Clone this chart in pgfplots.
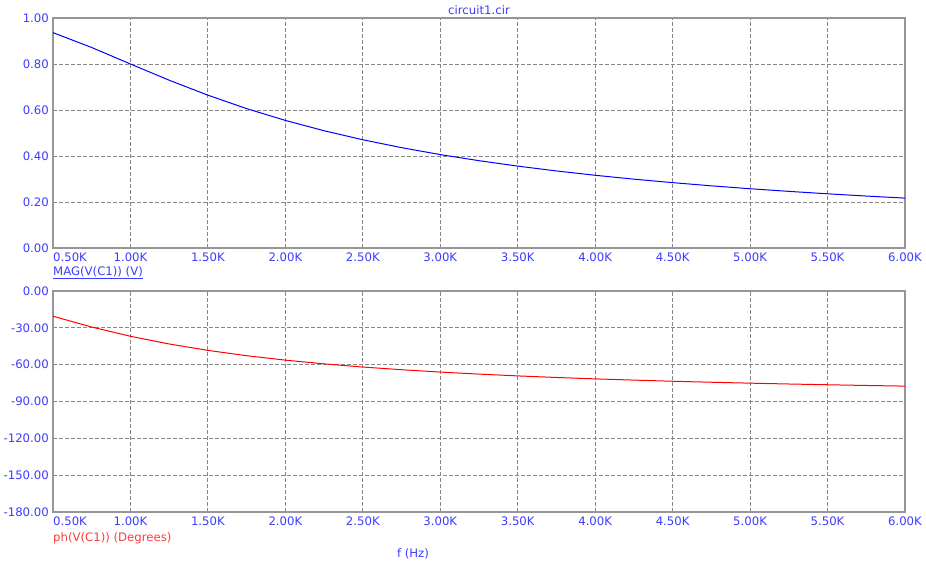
\documentclass[border=0pt]{standalone}
\usepackage{pgfplots}
\pgfplotsset{compat=1.18}
\usepackage{fontspec}
\setmainfont{DejaVu Sans}
\definecolor{txtblue}{RGB}{60,60,255}
\definecolor{txtred}{RGB}{255,60,60}
\definecolor{framegray}{RGB}{150,150,150}
\definecolor{gridgray}{RGB}{135,135,135}
\newcommand\lbl{\fontsize{11.7bp}{14bp}\selectfont}
\pgfplotsset{
  bodeaxis/.style={
    scale only axis, width=852bp,
    xmin=0.5, xmax=6,
    xtick={1,1.5,2,2.5,3,3.5,4,4.5,5,5.5,6},
    xticklabel={\pgfmathprintnumber[fixed,fixed zerofill,precision=2,assume math mode=true]{\tick}K},
    extra x ticks={0.5},
    extra x tick labels={0.50K},
    extra x tick style={grid=none, xticklabel style={anchor=north west}},
    xmajorgrids, ymajorgrids,
    major tick length=0pt,
    axis line style={framegray, line width=1.2bp},
    grid style={gridgray, dash pattern=on 3.5bp off 2.5bp, line width=0.9bp},
    tick label style={font=\lbl, txtblue},
    xticklabel style={inner sep=0pt, anchor=north, yshift=-5bp},
    yticklabel style={inner sep=0pt, anchor=east, xshift=-4bp,
      /pgf/number format/.cd, fixed, fixed zerofill, precision=2, assume math mode=true},
  }
}
\begin{document}
\begin{tikzpicture}[font=\lbl]
\path[use as bounding box] (0,0) rectangle (926bp,567bp);
\begin{axis}[bodeaxis, at={(53bp,319bp)}, anchor=south west, height=230bp,
  ymin=0, ymax=1, ytick={0,0.2,0.4,0.6,0.8,1}]
\addplot[blue, line width=1bp] coordinates {
(0.50,0.9363) (0.75,0.8716) (1.00,0.8000) (1.25,0.7295) (1.50,0.6644)
(1.75,0.6060) (2.00,0.5547) (2.25,0.5098) (2.50,0.4706) (2.75,0.4363)
(3.00,0.4061) (3.25,0.3796) (3.50,0.3560) (3.75,0.3350) (4.00,0.3162)
(4.25,0.2993) (4.50,0.2841) (4.75,0.2703) (5.00,0.2577) (5.25,0.2462)
(5.50,0.2356) (5.75,0.2259) (6.00,0.2169)};
\end{axis}
\begin{axis}[bodeaxis, at={(53bp,55bp)}, anchor=south west, height=221bp,
  ymin=-180, ymax=0, ytick={-180,-150,-120,-90,-60,-30,0}]
\addplot[red, line width=1bp] coordinates {
(0.50,-20.56) (0.75,-29.36) (1.00,-36.87) (1.25,-43.15) (1.50,-48.37)
(1.75,-52.70) (2.00,-56.31) (2.25,-59.35) (2.50,-61.93) (2.75,-64.12)
(3.00,-66.04) (3.25,-67.69) (3.50,-69.15) (3.75,-70.43) (4.00,-71.57)
(4.25,-72.58) (4.50,-73.50) (4.75,-74.32) (5.00,-75.07) (5.25,-75.75)
(5.50,-76.37) (5.75,-76.95) (6.00,-77.47)};
\end{axis}
\node[txtblue] at (479bp,557bp) {circuit1.cir};
\node[txtblue, anchor=west, inner sep=0pt] at (53bp,294bp) {\underline{MAG(V(C1)) (V)}};
\node[txtred, anchor=west, inner sep=0pt] at (53bp,29bp) {ph(V(C1)) (Degrees)};
\node[txtblue] at (413bp,13bp) {f (Hz)};
\end{tikzpicture}
\end{document}
